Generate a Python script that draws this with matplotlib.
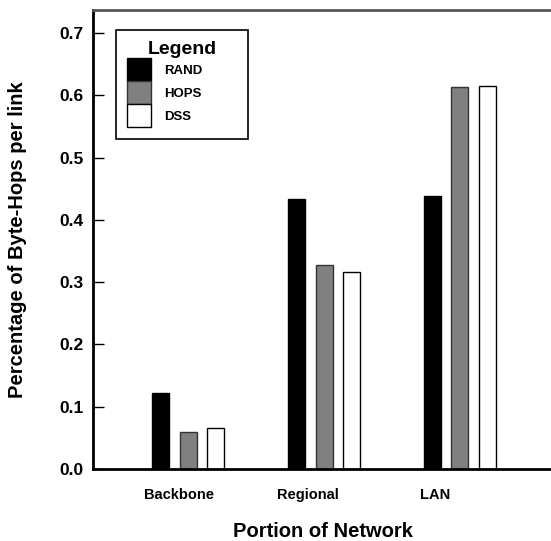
import numpy as np
import matplotlib
matplotlib.use("Agg")
import matplotlib.pyplot as plt

plt.rcParams['font.family'] = ['Liberation Sans', 'DejaVu Sans']
plt.rcParams['font.weight'] = 'bold'

# ----------------- data -----------------
categories = ["Backbone", "Regional", "LAN"]
series = ["RAND", "HOPS", "DSS"]
rand = [0.122, 0.433, 0.438]
hops = [0.059, 0.327, 0.614]
dss = [0.066, 0.317, 0.615]
yticks = [0.0, 0.1, 0.2, 0.3, 0.4, 0.5, 0.6, 0.7]
# ----------------------------------------

fills = ["#000000", "#808080", "#ffffff"]
edges = ["#000000", "#333333", "#000000"]

fig = plt.figure(figsize=(5.51, 5.41), dpi=100)
ax = fig.add_axes([93/551, 1-469/541, 1-93/551, (469-10)/541])

x = np.arange(len(categories))
w = 0.125
step = 0.2
for i, (vals, name) in enumerate(zip([rand, hops, dss], series)):
    ax.bar(x + (i-1)*step, vals, width=w, color=fills[i], edgecolor=edges[i],
           linewidth=1.0, label=name)

ax.set_xlim(-0.70, 2.67)
ax.set_ylim(0, 0.737)
ax.set_yticks(yticks)
ax.set_yticklabels([f"{t:.1f}" for t in yticks], fontsize=12.5, fontweight='bold')
ax.set_xticks(x + np.array([-0.07, -0.12, -0.18]))
ax.set_xticklabels(categories, fontsize=10.5, fontweight='bold')
ax.tick_params(axis='y', direction='in', length=8, width=1, pad=7)
ax.tick_params(axis='x', length=0, pad=14)

ax.spines["right"].set_visible(False)
ax.spines["left"].set_linewidth(2)
ax.spines["bottom"].set_linewidth(2)
ax.spines["top"].set_linewidth(2)
ax.spines["top"].set_color("#555555")

ax.set_xlabel("Portion of Network", fontsize=14.5, fontweight='bold', va='center')
ax.xaxis.set_label_coords(0.502, -0.137)
ax.set_ylabel("Percentage of Byte-Hops per link", fontsize=14.5, fontweight='bold', va='center')
ax.yaxis.set_label_coords(-0.164, 0.5)

leg = ax.legend(title="Legend", loc="upper left", bbox_to_anchor=(0.05, 0.71, 0.288, 0.246),
                mode="expand", fontsize=9.5,
                title_fontproperties={'weight': 'bold', 'size': 14},
                handlelength=1.8, handleheight=2.3, labelspacing=0.0,
                handletextpad=1.0, borderpad=0.85, borderaxespad=0,
                fancybox=False, framealpha=1)
leg.get_frame().set_edgecolor("black")
leg.get_frame().set_linewidth(1.2)
for t in leg.get_texts():
    t.set_fontweight('bold')

fig.savefig("out.png", dpi=100)
